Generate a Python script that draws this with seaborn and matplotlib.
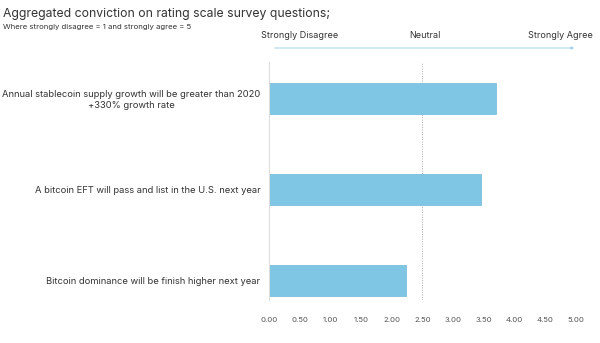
import matplotlib
matplotlib.use("Agg")
import matplotlib.pyplot as plt
import seaborn as sns
import pandas as pd

questions = [
    "Annual stablecoin supply growth will be greater than 2020\n+330% growth rate",
    "A bitcoin EFT will pass and list in the U.S. next year",
    "Bitcoin dominance will be finish higher next year",
]
scores = [3.70, 3.45, 2.23]
xticks = [0, 0.5, 1, 1.5, 2, 2.5, 3, 3.5, 4, 4.5, 5]
scale_labels = ["Strongly Disagree", "Neutral", "Strongly Agree"]

sns.set_theme(style="white")
plt.rcParams['font.family'] = ['Inter', 'DejaVu Sans']

df = pd.DataFrame({"question": questions, "score": scores})

fig = plt.figure(figsize=(6, 3.43), dpi=100)
ax = fig.add_axes([0.448, 0.125, 0.512, 0.694])
sns.barplot(data=df, y="question", x="score", orient="h", color="#7ec6e4",
            width=0.34, edgecolor="#6fb8d8", linewidth=0.5, saturation=1, ax=ax)
ax.set_xlim(0, 5)
ax.set_ylim(2.22, -0.40)
ax.set_xticks(xticks)
ax.set_xticklabels([f"{t:.2f}" for t in xticks], fontsize=5.6, color="#555555")
ax.tick_params(axis="x", length=0, pad=12)
ax.tick_params(axis="y", length=0, pad=6)
for lbl in ax.get_yticklabels():
    lbl.set_fontsize(6.75)
    lbl.set_color("#333333")
    lbl.set_multialignment("center")
ax.set_xlabel("")
ax.set_ylabel("")
for s in ["top", "right", "bottom"]:
    ax.spines[s].set_visible(False)
ax.spines["left"].set_color("#dddddd")
ax.spines["left"].set_linewidth(0.8)
ax.axvline(2.5, color="#aaaaaa", linestyle=(0, (1, 1.5)), linewidth=0.7, zorder=0)

fig.text(0.005, 0.978, "Aggregated conviction on rating scale survey questions;",
         fontsize=8.8, color="#333333", va="top", ha="left")
fig.text(0.005, 0.93, "Where strongly disagree = 1 and strongly agree = 5",
         fontsize=5.6, color="#333333", va="top", ha="left")

ypos = 1 - 35 / 343
fig.text(300 / 600, ypos, scale_labels[0], fontsize=6.5, color="#333333", ha="center", va="center")
fig.text(425 / 600, ypos, scale_labels[1], fontsize=6.5, color="#333333", ha="center", va="center")
fig.text(560 / 600, ypos, scale_labels[2], fontsize=6.5, color="#333333", ha="center", va="center")
ay = 1 - 48 / 343
fig.add_artist(matplotlib.patches.FancyArrowPatch(
    (272 / 600, ay), (577 / 600, ay), transform=fig.transFigure,
    arrowstyle="-|>", mutation_scale=4, color="#9fd3ea", linewidth=0.7))

fig.savefig("out.png", dpi=100)
